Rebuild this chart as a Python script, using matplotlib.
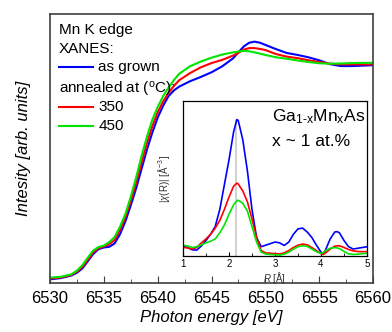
import numpy as np
import matplotlib.pyplot as plt
from matplotlib.ticker import MultipleLocator

plt.rcParams['font.family'] = ['Liberation Sans', 'DejaVu Sans']
plt.rcParams['mathtext.fontset'] = 'custom'
plt.rcParams['mathtext.rm'] = 'Liberation Sans'
plt.rcParams['mathtext.it'] = 'Liberation Sans:italic'

# Mn K-edge XANES (normalised)
energy = [6530, 6531, 6532, 6532.5, 6533, 6533.5, 6534, 6534.5, 6535, 6535.5,
          6536, 6536.5, 6537, 6537.5, 6538, 6538.5, 6539, 6539.5, 6540, 6540.5,
          6541, 6541.5, 6542, 6543, 6544, 6545, 6546, 6547, 6547.5, 6548,
          6548.5, 6549, 6549.5, 6550, 6551, 6552, 6553, 6554, 6555, 6556,
          6557, 6558, 6559, 6560]
xanes_grown = [-0.006, 0.0, 0.012, 0.025, 0.045, 0.078, 0.112, 0.135, 0.143, 0.146,
               0.162, 0.205, 0.265, 0.34, 0.42, 0.51, 0.60, 0.68, 0.75, 0.805,
               0.85, 0.877, 0.895, 0.92, 0.94, 0.962, 0.99, 1.027, 1.055, 1.083,
               1.10, 1.105, 1.10, 1.09, 1.07, 1.052, 1.043, 1.032, 1.018, 1.0,
               0.991, 0.991, 0.993, 0.995]
xanes_350 = [-0.002, 0.003, 0.015, 0.03, 0.052, 0.085, 0.12, 0.14, 0.148, 0.158,
             0.178, 0.225, 0.285, 0.36, 0.445, 0.54, 0.63, 0.71, 0.775, 0.825,
             0.865, 0.898, 0.925, 0.958, 0.985, 1.005, 1.02, 1.04, 1.053, 1.068,
             1.075, 1.075, 1.071, 1.066, 1.047, 1.035, 1.028, 1.018, 1.01, 1.002,
             0.999, 0.999, 0.999, 0.999]
xanes_450 = [0.002, 0.006, 0.018, 0.035, 0.06, 0.095, 0.128, 0.145, 0.152, 0.168,
             0.192, 0.24, 0.30, 0.38, 0.47, 0.57, 0.66, 0.74, 0.80, 0.85,
             0.89, 0.925, 0.955, 0.99, 1.012, 1.03, 1.045, 1.055, 1.059, 1.062,
             1.06, 1.055, 1.049, 1.043, 1.032, 1.025, 1.017, 1.01, 1.004, 1.002,
             1.003, 1.005, 1.006, 1.006]

# EXAFS Fourier transform |chi(R)|
r = [1.0, 1.1, 1.2, 1.3, 1.4, 1.5, 1.6, 1.7, 1.8, 1.9, 2.0, 2.1, 2.17, 2.2,
     2.3, 2.4, 2.5, 2.6, 2.7, 2.8, 2.9, 3.0, 3.1, 3.2, 3.3, 3.4, 3.5, 3.6,
     3.7, 3.8, 3.9, 4.0, 4.05, 4.1, 4.2, 4.3, 4.35, 4.4, 4.5, 4.6, 4.7, 4.8,
     4.9, 5.0]
ft_grown = [0.065, 0.055, 0.04, 0.038, 0.065, 0.10, 0.14, 0.19, 0.30, 0.46, 0.62, 0.80, 0.88, 0.875,
            0.75, 0.55, 0.30, 0.12, 0.06, 0.07, 0.08, 0.09, 0.085, 0.068, 0.09, 0.14, 0.175, 0.18,
            0.155, 0.12, 0.07, 0.025, 0.015, 0.04, 0.11, 0.155, 0.157, 0.15, 0.10, 0.06, 0.045, 0.05,
            0.055, 0.06]
ft_350 = [0.056, 0.052, 0.045, 0.055, 0.085, 0.11, 0.14, 0.18, 0.23, 0.30, 0.38, 0.45, 0.47, 0.465,
          0.42, 0.35, 0.24, 0.12, 0.035, 0.02, 0.018, 0.015, 0.013, 0.02, 0.035, 0.055, 0.07, 0.077,
          0.072, 0.055, 0.035, 0.015, 0.01, 0.02, 0.045, 0.063, 0.066, 0.066, 0.055, 0.042, 0.033, 0.029,
          0.028, 0.028]
ft_450 = [0.069, 0.065, 0.055, 0.06, 0.072, 0.085, 0.095, 0.11, 0.15, 0.20, 0.27, 0.33, 0.355, 0.36,
          0.34, 0.29, 0.19, 0.09, 0.025, 0.012, 0.01, 0.008, 0.006, 0.012, 0.025, 0.045, 0.06, 0.066,
          0.062, 0.045, 0.028, 0.017, 0.022, 0.035, 0.05, 0.054, 0.052, 0.048, 0.03, 0.014, 0.01, 0.012,
          0.015, 0.017]
r_mark = 2.15

blue, red, green = '#0000ff', '#ff0000', '#00e600'
frame = '#404040'

fig = plt.figure(figsize=(3.92, 3.32), dpi=100)
ax = fig.add_axes([0.1276, 0.1476, 0.824, 0.810])
ax.plot(energy, xanes_grown, color=blue, lw=1.5)
ax.plot(energy, xanes_350, color=red, lw=1.5)
ax.plot(energy, xanes_450, color=green, lw=1.5)
ax.set_xlim(6530, 6560)
ax.set_ylim(-0.023, 1.234)
ax.xaxis.set_major_locator(MultipleLocator(5))
ax.xaxis.set_minor_locator(MultipleLocator(2.5))
ax.tick_params(axis='x', which='both', direction='in', labelsize=12, pad=6, color=frame)
ax.tick_params(axis='x', which='major', length=5)
ax.tick_params(axis='x', which='minor', length=3)
ax.set_yticks([])
for s in ax.spines.values():
    s.set_color(frame)
    s.set_linewidth(1.2)
ax.set_xlabel('Photon energy [eV]', fontsize=12, style='italic', labelpad=3)
ax.set_ylabel('Intesity [arb. units]', fontsize=12, style='italic', labelpad=14)

# legend block
tx = 0.149
ax.text(0.028, 0.9405, 'Mn K edge', transform=ax.transAxes, fontsize=11, va='center')
ax.text(0.028, 0.870, 'XANES:', transform=ax.transAxes, fontsize=11, va='center')
ax.plot([0.028, 0.133], [0.803, 0.803], color=blue, lw=1.5, transform=ax.transAxes)
ax.text(tx, 0.803, 'as grown', transform=ax.transAxes, fontsize=11, va='center')
ax.text(0.028, 0.721, r'annealed at ($^{\rm o}$C):', transform=ax.transAxes, fontsize=11, va='center')
ax.plot([0.028, 0.133], [0.654, 0.654], color=red, lw=1.5, transform=ax.transAxes)
ax.text(tx, 0.654, '350', transform=ax.transAxes, fontsize=11, va='center')
ax.plot([0.028, 0.133], [0.584, 0.584], color=green, lw=1.5, transform=ax.transAxes)
ax.text(tx, 0.584, '450', transform=ax.transAxes, fontsize=11, va='center')

# inset
ins = fig.add_axes([0.4668, 0.2289, 0.4694, 0.4669])
ins.vlines(r_mark, 0, max(ft_grown), color='#c8c8c8', lw=1.2)
ins.plot(r, ft_grown, color=blue, lw=1.2)
ins.plot(r, ft_350, color=red, lw=1.2)
ins.plot(r, ft_450, color=green, lw=1.2)
ins.set_xlim(1, 5)
ins.set_ylim(0, 1)
ins.set_xticks([1, 2, 3, 4, 5])
ins.xaxis.set_minor_locator(MultipleLocator(0.5))
ins.set_yticks([])
ins.tick_params(axis='x', which='both', direction='in', labelsize=7, pad=2)
ins.tick_params(axis='x', which='major', length=3)
ins.tick_params(axis='x', which='minor', length=2)
for s in ins.spines.values():
    s.set_linewidth(0.9)
ins.set_xlabel(r'$\it{R}$ [Å]', fontsize=7, labelpad=1, color='#333333')
ins.set_ylabel(r'|$\chi$(R)| [Å$^{-3}$]', fontsize=7, labelpad=8, color='#333333')
ins.text(0.485, 0.9, r'Ga$_{\rm 1\text{-}x}$Mn$_{\rm x}$As', transform=ins.transAxes,
         fontsize=12.5, va='center')
ins.text(0.485, 0.74, 'x ~ 1 at.%', transform=ins.transAxes, fontsize=12.5, va='center')

fig.savefig('out.png', dpi=100)
